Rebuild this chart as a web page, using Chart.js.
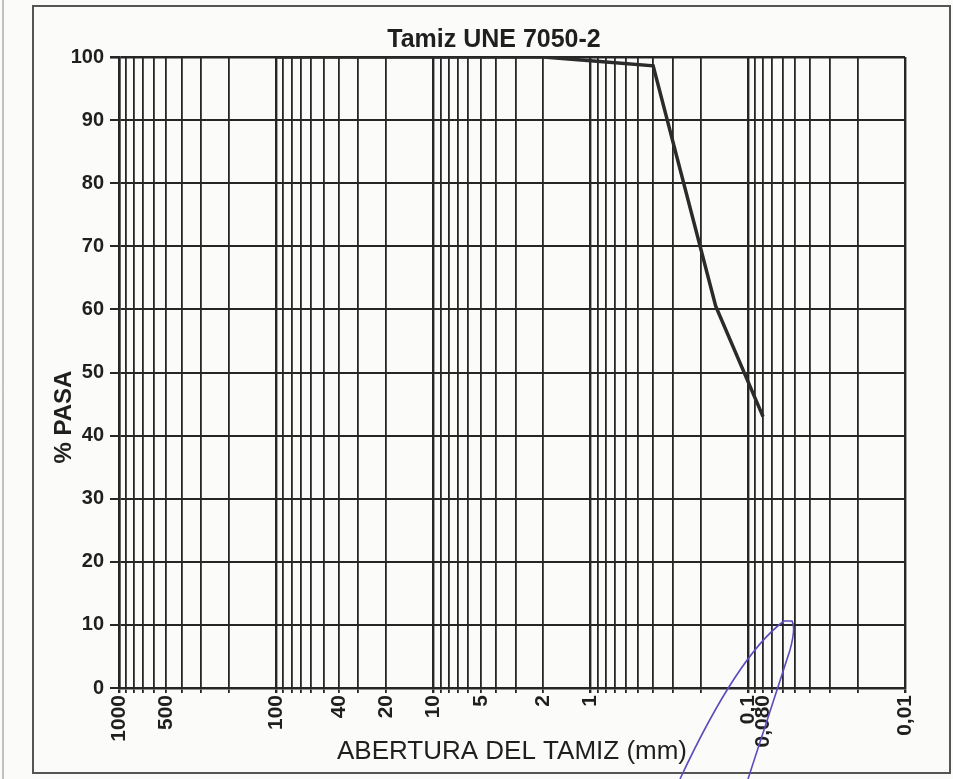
<!DOCTYPE html>
<html>
<head>
<meta charset="utf-8">
<script src="https://cdn.jsdelivr.net/npm/chart.js@4.4.1/dist/chart.umd.min.js"></script>
<style>
  html, body { margin: 0; padding: 0; background: #fbfbfa; }
  #wrap { width: 953px; height: 779px; position: relative; }
</style>
</head>
<body>
<div id="wrap"><canvas id="granulometria" width="953" height="779"></canvas></div>
<script>
// sieve openings (mm) and % passing
const sieveSizes = [100, 63, 40, 20, 10, 5, 2, 1, 0.4, 0.16, 0.08];
const percentPassing = [100, 100, 100, 100, 100, 100, 100, 99.4, 98.6, 60.5, 43];

// labelled openings on the x axis
const xTickValues = [1000, 500, 100, 40, 20, 10, 5, 2, 1, 0.1, 0.08, 0.01];
const xTickLabels = ['1000', '500', '100', '40', '20', '10', '5', '2', '1', '0,1', '0,080', '0,01'];

// log paper: decades and the minor lines inside each one
const decadeStarts = [0.01, 0.1, 1, 10, 100];
const minorSteps = [1, 2, 3, 4, 5, 6, 7, 8, 9];

const gridValues = [];
decadeStarts.forEach(d => {
    minorSteps.forEach(k => gridValues.push(Number((k * d).toPrecision(6))));
});
gridValues.push(1000);

function sameValue(a, b) {
    return Math.abs(a - b) / b < 1e-6;
}
function isDecade(v) {
    return [0.01, 0.1, 1, 10, 100, 1000].some(d => sameValue(v, d));
}

const ink = '#262626';
const fontFamily = '"Liberation Sans", Arial, sans-serif';

const paperDecor = {
    id: 'paperDecor',
    beforeDraw(chart) {
        const c = chart.ctx;
        c.save();
        c.fillStyle = '#fbfbfa';
        c.fillRect(0, 0, chart.width, chart.height);
        c.strokeStyle = '#555';
        c.lineWidth = 2;
        c.strokeRect(33, 6, 917, 767);
        c.lineWidth = 1;
        c.strokeStyle = '#888';
        c.beginPath();
        c.moveTo(3, 0);
        c.lineTo(3, 779);
        c.stroke();
        c.restore();
    },
    afterDraw(chart) {
        const c = chart.ctx;
        c.save();
        c.fillStyle = '#1f1f1f';
        c.textAlign = 'center';
        c.textBaseline = 'middle';
        c.font = 'bold 25px ' + fontFamily;
        c.fillText('Tamiz UNE 7050-2', 494, 40);

        c.translate(64, 417);
        c.rotate(-Math.PI / 2);
        c.font = 'bold 24px ' + fontFamily;
        c.fillText('% PASA', 0, 0);
        c.restore();

        // pen mark round the 0,080 sieve
        c.save();
        c.strokeStyle = '#5a4dbd';
        c.lineWidth = 1.6;
        c.beginPath();
        c.moveTo(680, 779);
        c.quadraticCurveTo(738, 655, 784, 621);
        c.lineTo(792, 621);
        c.quadraticCurveTo(796, 628, 790, 650);
        c.lineTo(748, 779);
        c.stroke();
        c.restore();
    }
};

const ctx = document.getElementById('granulometria').getContext('2d');
const granChart = new Chart(ctx, {
    type: 'line',
    data: {
        datasets: [{
            label: '% pasa',
            data: sieveSizes.map((s, i) => ({ x: s, y: percentPassing[i] })),
            borderColor: '#2b2b2b',
            borderWidth: 3.5,
            pointRadius: 0,
            tension: 0,
            fill: false
        }]
    },
    options: {
        responsive: false,
        animation: false,
        layout: { padding: { top: 57, right: 48, bottom: 0, left: 0 } },
        plugins: {
            legend: { display: false },
            tooltip: { enabled: false },
            title: { display: false }
        },
        scales: {
            x: {
                type: 'logarithmic',
                reverse: true,
                min: 0.01,
                max: 1000,
                afterBuildTicks: scale => {
                    scale.ticks = gridValues.map(v => ({ value: v, major: isDecade(v) }));
                },
                afterFit: scale => { scale.height = 91; },
                ticks: {
                    autoSkip: false,
                    minRotation: 90,
                    maxRotation: 90,
                    padding: 2,
                    color: '#1f1f1f',
                    font: { family: fontFamily, size: 21, weight: 'bold' },
                    callback: function (value) {
                        const idx = xTickValues.findIndex(t => sameValue(value, t));
                        return idx >= 0 ? xTickLabels[idx] : '';
                    }
                },
                grid: {
                    color: ink,
                    lineWidth: c => (c.tick && isDecade(c.tick.value) ? 2.4 : 1.8),
                    tickLength: 5
                },
                border: { color: ink, width: 2.5 },
                title: {
                    display: true,
                    text: 'ABERTURA DEL TAMIZ (mm)',
                    color: '#1f1f1f',
                    font: { family: fontFamily, size: 26 },
                    padding: { top: 0, bottom: 12 }
                }
            },
            y: {
                min: 0,
                max: 100,
                afterFit: scale => { scale.width = 119; },
                ticks: {
                    stepSize: 10,
                    padding: 6,
                    color: '#1f1f1f',
                    font: { family: fontFamily, size: 20, weight: 'bold' }
                },
                grid: {
                    color: ink,
                    lineWidth: c => (c.tick && c.tick.value === 100 ? 2.6 : 2),
                    tickLength: 9
                },
                border: { color: ink, width: 2.5 }
            }
        }
    },
    plugins: [paperDecor]
});
</script>
</body>
</html>
